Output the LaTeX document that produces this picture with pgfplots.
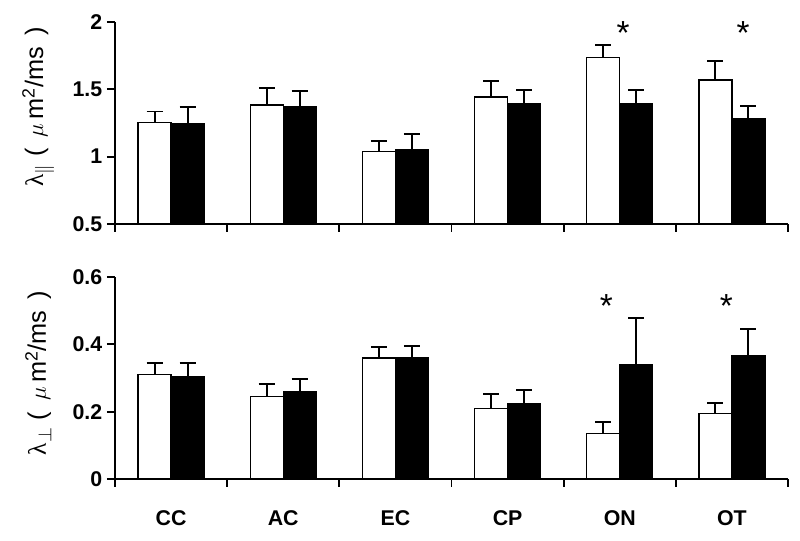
\documentclass[border=0pt]{standalone}
\usepackage{fontspec}
\setmainfont{Liberation Sans}
\newfontfamily\serifg{Liberation Serif}
\usepackage{pgfplots}
\pgfplotsset{compat=1.18}
\usepackage{pgfplotstable}

\pgfplotstableread{
x w we b be
0 1.255 0.080 1.243 0.128
1 1.382 0.126 1.369 0.119
2 1.037 0.082 1.052 0.114
3 1.443 0.119 1.393 0.102
4 1.735 0.097 1.393 0.102
5 1.569 0.144 1.280 0.099
}\toptable

\pgfplotstableread{
x w we b be
0 0.310 0.035 0.305 0.040
1 0.245 0.036 0.259 0.037
2 0.360 0.031 0.360 0.035
3 0.209 0.044 0.224 0.041
4 0.135 0.034 0.340 0.137
5 0.195 0.030 0.366 0.080
}\bottable

\pgfplotsset{
  mystyle/.style={
    scale only axis, width=504.75pt, height=151.5pt,
    axis lines*=left, axis line style={-, line width=1.4pt},
    xmin=-0.5, xmax=5.5,
    xtick={-0.5,0.5,...,5.5}, xticklabels={},
    tick align=outside, major tick length=6pt,
    every tick/.style={black, line width=1.4pt},
    ybar=0pt, bar width=24.75pt,
    tick label style={font=\bfseries\fontsize{16}{18}\selectfont},
    /pgf/number format/assume math mode=true,
    clip mode=individual,
  },
  whitebar/.style={fill=white, draw=black, line width=1.1pt,
    error bars/.cd, y dir=plus, y explicit,
    error bar style={line width=1.4pt, black},
    error mark options={black, line width=1.4pt, mark size=6pt, rotate=90}},
  blackbar/.style={fill=black, draw=black, line width=1.1pt,
    error bars/.cd, y dir=plus, y explicit,
    error bar style={line width=1.4pt, black},
    error mark options={black, line width=1.4pt, mark size=6pt, rotate=90}},
}

\begin{document}
\begin{tikzpicture}
\begin{axis}[mystyle, at={(0,191.25pt)},
  ymin=0.5, ymax=2, ytick={0.5,1,1.5,2},
  every axis y label/.style={at={(axis description cs:-0.114,0.58)}, rotate=90, anchor=center, font=\fontsize{19}{21}\selectfont},
  ylabel={{\serifg λ}$_{\|}$\ ( \,$\mu$\,m\textsuperscript{2}/ms\, )}]
\addplot[whitebar] table[x=x, y=w, y error=we]{\toptable};
\addplot[blackbar] table[x=x, y=b, y error=be]{\toptable};
\node[font=\fontsize{25}{25}\selectfont] at (axis cs:4.03,1.92) {*};
\node[font=\fontsize{25}{25}\selectfont] at (axis cs:5.10,1.92) {*};
\end{axis}
\begin{axis}[mystyle, at={(0,0)},
  ymin=0, ymax=0.6, ytick={0,0.2,0.4,0.6},
  extra x ticks={0,1,2,3,4,5},
  extra x tick labels={CC,AC,EC,CP,ON,OT},
  extra x tick style={major tick length=0pt, tick label style={yshift=-20pt}},
  every axis y label/.style={at={(axis description cs:-0.114,0.525)}, rotate=90, anchor=center, font=\fontsize{19}{21}\selectfont},
  ylabel={{\serifg λ}$_{\perp}$\ ( \,$\mu$\,m\textsuperscript{2}/ms\, )}]
\addplot[whitebar] table[x=x, y=w, y error=we]{\bottable};
\addplot[blackbar] table[x=x, y=b, y error=be]{\bottable};
\node[font=\fontsize{25}{25}\selectfont] at (axis cs:3.88,0.515) {*};
\node[font=\fontsize{25}{25}\selectfont] at (axis cs:4.95,0.515) {*};
\end{axis}
\pgfresetboundingbox
\path[use as bounding box] (-86.25pt,-46.5pt) rectangle (513.75pt,359.25pt);
\end{tikzpicture}
\end{document}
